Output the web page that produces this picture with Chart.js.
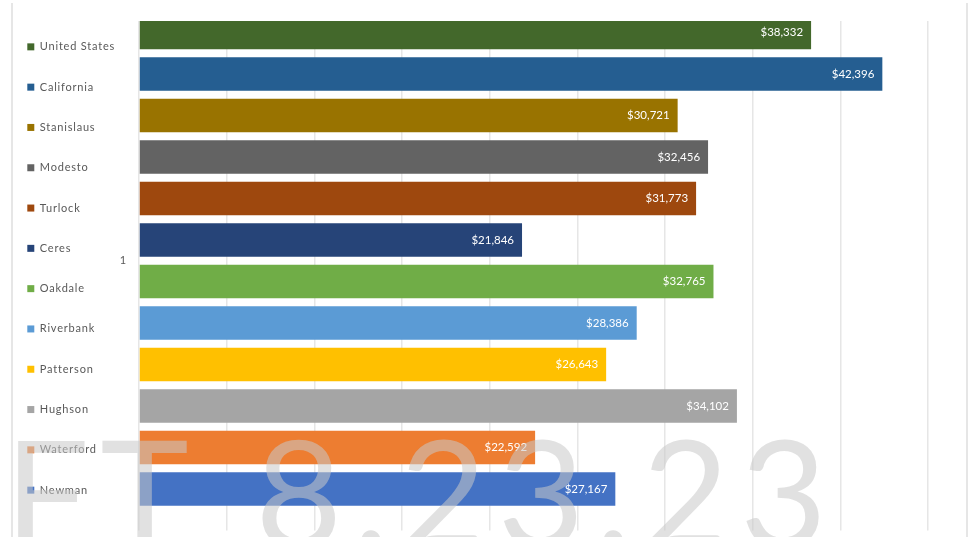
<!DOCTYPE html>
<html>
<head>
<meta charset="utf-8">
<script src="https://cdn.jsdelivr.net/npm/chart.js@4.4.0/dist/chart.umd.min.js"></script>
<style>
  html, body { margin: 0; padding: 0; background: #fff; }
  #wrap { position: relative; width: 974px; height: 537px; overflow: hidden; }
  #frame { position: absolute; left: 11px; top: 3px; width: 953px; bottom: 0;
           border-left: 2px solid #e6e6e6; border-right: 2px solid #e6e6e6; }
  #chart { position: absolute; left: 0; top: 0; }
</style>
</head>
<body>
<div id="wrap">
  <div id="frame"></div>
  <canvas id="chart" width="974" height="537"></canvas>
</div>
<script>
// per capita income, one bar per place
const places = ["United States", "California", "Stanislaus", "Modesto", "Turlock", "Ceres",
                "Oakdale", "Riverbank", "Patterson", "Hughson", "Waterford", "Newman"];
const incomes = [38332, 42396, 30721, 32456, 31773, 21846, 32765, 28386, 26643, 34102, 22592, 27167];
const barColors = ["#43682b", "#255e91", "#997300", "#636363", "#9e480e", "#264478",
                   "#70ad47", "#5b9bd5", "#ffc000", "#a5a5a5", "#ed7d31", "#4472c4"];
const categories = ["1"];
const watermark = "DRAFT 8.23.23";

function formatCurrency(value) {
  return "$" + value.toLocaleString("en-US");
}

// white value label just inside the end of each bar
const valueLabels = {
  id: "valueLabels",
  afterDatasetsDraw(chart) {
    const ctx = chart.ctx;
    ctx.save();
    ctx.letterSpacing = "0px";
    ctx.font = "11.5px Lato";
    ctx.fillStyle = "#ffffff";
    ctx.textAlign = "right";
    ctx.textBaseline = "middle";
    chart.data.datasets.forEach((ds, i) => {
      const bar = chart.getDatasetMeta(i).data[0];
      ctx.fillText(formatCurrency(ds.data[0]), bar.x - 8, bar.y);
    });
    ctx.restore();
  }
};

// big translucent stamp across the bottom
const stamp = {
  id: "stamp",
  afterDraw(chart) {
    const ctx = chart.ctx;
    ctx.save();
    ctx.font = "150px Lato";
    ctx.letterSpacing = "11px";
    ctx.wordSpacing = "6px";
    ctx.fillStyle = "rgba(200,200,200,0.55)";
    ctx.textAlign = "right";
    ctx.textBaseline = "alphabetic";
    ctx.fillText(watermark, 838, 548);
    ctx.restore();
  }
};

// legend text is drawn a little spaced out
const spacing = {
  id: "spacing",
  beforeDraw(chart) { chart.ctx.letterSpacing = "0.8px"; },
  beforeDatasetsDraw(chart) { chart.ctx.letterSpacing = "0px"; }
};

// fixed legend column width, and keep all entries in one column
const legendWidth = {
  id: "legendWidth",
  beforeInit(chart) {
    const fit = chart.legend.fit;
    chart.legend.fit = function () {
      const h = this.maxHeight;
      this.maxHeight = 2000;
      fit.call(this);
      this.maxHeight = h;
      this.height = h;
      this.width = 120;
    };
  }
};

const datasets = places.map((name, i) => ({
  label: name,
  data: [incomes[i]],
  backgroundColor: barColors[i],
  borderWidth: 0,
  categoryPercentage: 0.9776,
  barPercentage: 0.806,
  clip: 0
}));

new Chart(document.getElementById("chart"), {
  type: "bar",
  data: { labels: categories, datasets },
  options: {
    indexAxis: "y",
    responsive: false,
    animation: false,
    layout: { padding: { top: 6, right: 46, bottom: 6, left: -2 } },
    scales: {
      x: {
        position: "top",
        min: 0,
        max: 45000,
        afterFit: s => { s.height = 15; },
        ticks: { display: false, stepSize: 5000 },
        grid: { color: "#e6e6e6", lineWidth: 1.5, drawTicks: false },
        border: { display: false }
      },
      y: {
        type: "linear",
        bounds: "data",
        offset: false,
        min: 0.4706,
        max: 1.4706,
        afterBuildTicks: s => { s.ticks = [{ value: 1 }]; },
        afterFit: s => { s.width = 21; },
        ticks: { font: { family: "Lato", size: 11 }, color: "#595959", padding: 0,
                 callback: v => String(v) },
        grid: { color: "transparent", drawTicks: true, tickLength: 12 },
        border: { display: false }
      }
    },
    plugins: {
      legend: {
        position: "left",
        labels: {
          boxWidth: 7,
          boxHeight: 7,
          padding: 29.3,
          color: "#595959",
          font: { family: "Lato", size: 11 }
        }
      },
      tooltip: { enabled: false }
    }
  },
  plugins: [valueLabels, stamp, spacing, legendWidth]
});
</script>
</body>
</html>
